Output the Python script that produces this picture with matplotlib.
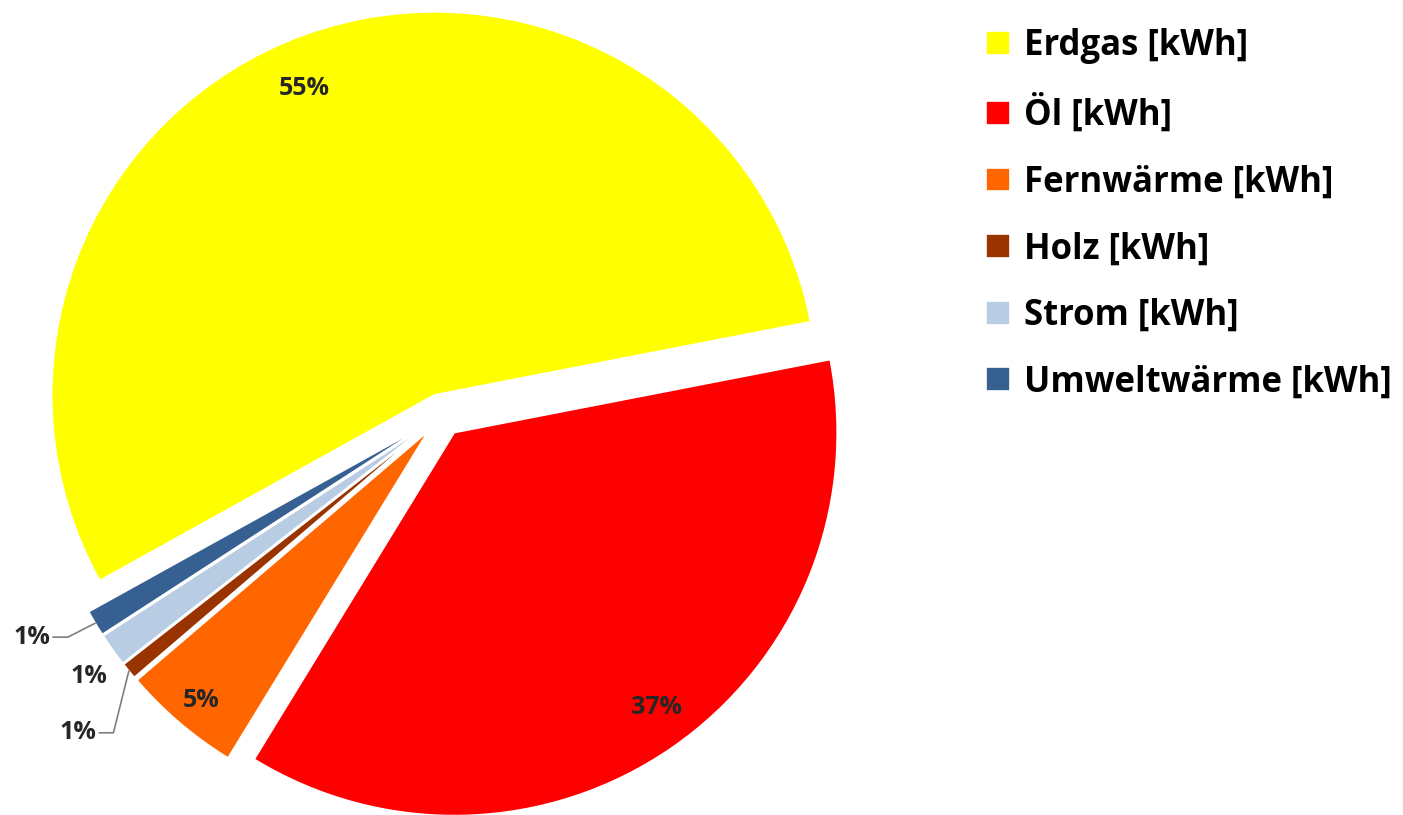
import matplotlib.pyplot as plt
import numpy as np

plt.rcParams['font.family'] = ['Open Sans', 'DejaVu Sans']

# data
labels = ['Erdgas [kWh]', 'Öl [kWh]', 'Fernwärme [kWh]', 'Holz [kWh]', 'Strom [kWh]', 'Umweltwärme [kWh]']
shares = [55.0, 36.8, 5.0, 0.7, 1.4, 1.1]
colors = ['#FFFF00', '#FF0000', '#FF6600', '#993300', '#B8CCE4', '#366092']

fig = plt.figure(figsize=(14.03, 8.15), dpi=100)
# square axes so that radius 1 ~ 383 px, pie centre at ~(442, 415) px from top-left
ax = fig.add_axes([42 / 1403, 0 / 815, 800 / 1403, 800 / 815])
lim = 400 / 383

txt_color = '#262626'
pct_size = 18
wedges, texts, autotexts = ax.pie(
    shares, colors=colors, startangle=209, counterclock=False,
    explode=[0.056] * len(shares), radius=1.0, autopct='%.0f%%',
    pctdistance=0.88, frame=True,
    wedgeprops=dict(edgecolor='white', linewidth=1.2),
    textprops=dict(fontsize=pct_size, fontweight='bold', color=txt_color))
ax.set_xlim(-lim, lim)
ax.set_ylim(-lim, lim)
ax.set_aspect('equal')
ax.axis('off')

# label placement: (distance factor, angle offset in degrees, leader angle or None)
inside = {0: (0.87, 3.0), 1: (0.89, 1.6), 2: (0.92, 0.3)}
outside = {3: (1.17, 3.5, 76), 4: (1.09, 1.1, None), 5: (1.12, -1.5, 27)}

for i, (dist, dang) in inside.items():
    w = wedges[i]
    a = np.deg2rad((w.theta1 + w.theta2) / 2 + dang)
    cx, cy = w.center
    autotexts[i].set_position((cx + dist * np.cos(a), cy + dist * np.sin(a)))

for i, (dist, dang, angB) in outside.items():
    w = wedges[i]
    autotexts[i].set_visible(False)
    mid = np.deg2rad((w.theta1 + w.theta2) / 2)
    cx, cy = w.center
    edge = (cx + w.r * np.cos(mid), cy + w.r * np.sin(mid))
    a = mid + np.deg2rad(dang)
    pos = (cx + dist * np.cos(a), cy + dist * np.sin(a))
    txt = autotexts[i].get_text()
    if angB is not None:
        ax.annotate(txt, xy=edge, xytext=pos, ha='right', va='center',
                    fontsize=pct_size, fontweight='bold', color=txt_color,
                    arrowprops=dict(arrowstyle='-', color='#7f7f7f', lw=1.2,
                                    shrinkA=0, shrinkB=0,
                                    connectionstyle='angle,angleA=0,angleB=%d,rad=0' % angB))
    else:
        ax.text(pos[0], pos[1], txt, ha='center', va='center',
                fontsize=pct_size, fontweight='bold', color=txt_color)

fig.legend(wedges, labels, loc='upper left', bbox_to_anchor=(955 / 1403, 1 + 3 / 815),
           frameon=False, handlelength=0.68, handleheight=0.68,
           handletextpad=0.4, labelspacing=0.88, prop=dict(weight='bold', size=25))

fig.savefig('out.png', dpi=100)
